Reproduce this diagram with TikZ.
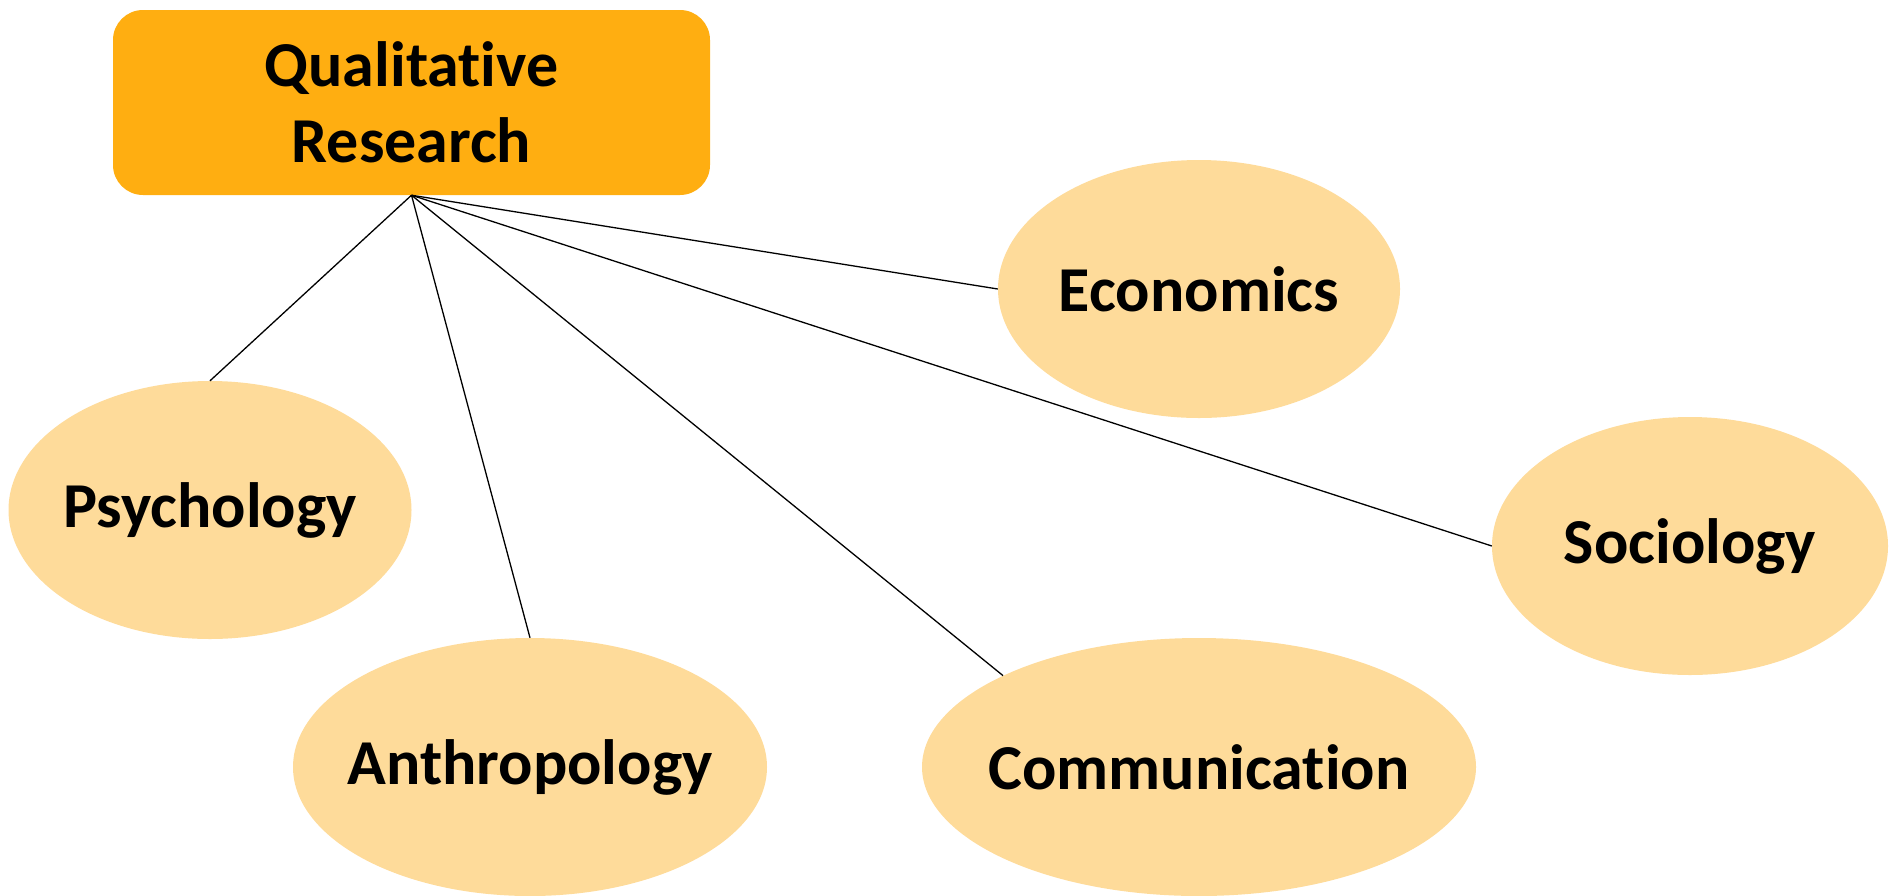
\documentclass[tikz,border=0pt]{standalone}
\usepackage{fontspec}
\setmainfont[Ligatures=NoCommon]{Carlito}
\usetikzlibrary{shapes.geometric}
\definecolor{boxorange}{HTML}{FFAE11}
\definecolor{bubfill}{HTML}{FEDB9A}
\tikzset{
  txt/.style={font=\bfseries\fontsize{64}{76}\selectfont, text=black},
  bub/.style={ellipse, fill=bubfill, draw=none, inner sep=0pt, minimum height=258pt},
  every label/.style={txt},
  link/.style={draw=black, line width=1.3pt}
}
\begin{document}
\begin{tikzpicture}[x=1pt,y=-1pt]
\useasboundingbox (0,0) rectangle (1889,895);
\node[fill=boxorange, rounded corners=30pt, minimum width=597pt, minimum height=185pt, inner sep=0pt, txt, align=center] (qr) at (411.5,102.5) {Qualitative\\Research};
\node[bub, minimum width=402pt, label=center:{Economics}] (eco) at (1199,289) {};
\node[bub, minimum width=403pt, label=center:{Psychology}] (psy) at (210,510) {};
\node[bub, minimum width=474pt, label=center:{Anthropology}] (ant) at (530,767) {};
\node[bub, minimum width=554pt, label=center:{Communication}] (com) at (1199,767) {};
\node[bub, minimum width=396pt, label=center:{Sociology}] (soc) at (1690,546) {};
\draw[link] (qr.south) -- (psy.north);
\draw[link] (qr.south) -- (ant.north);
\draw[link] (qr.south) -- (com.155);
\draw[link] (qr.south) -- (soc.west);
\draw[link] (qr.south) -- (eco.west);
\end{tikzpicture}
\end{document}
